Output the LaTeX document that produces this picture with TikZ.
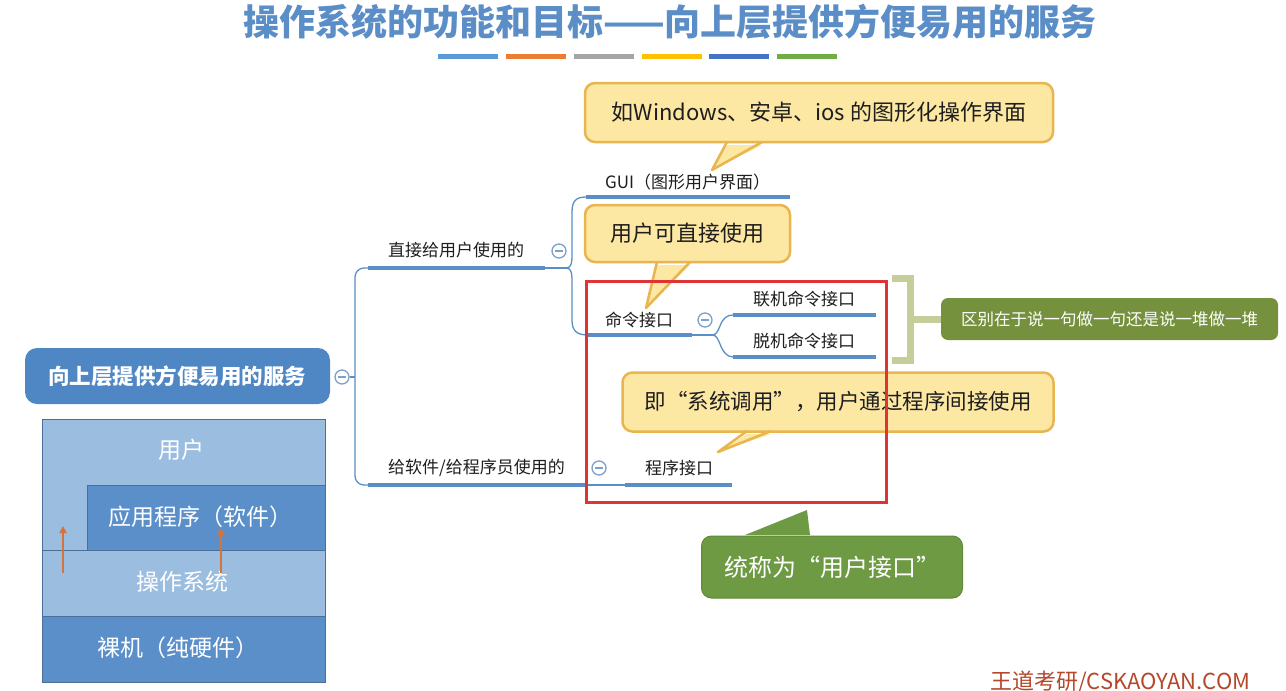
\documentclass[tikz,border=0pt]{standalone}
\usepackage{fontspec}
\setmainfont{Noto Sans CJK SC}
\usetikzlibrary{arrows.meta}
\definecolor{titleblue}{HTML}{5B8EC7}
\definecolor{treeblue}{HTML}{5B8EC7}
\definecolor{circblue}{HTML}{7EA1C9}
\definecolor{rootblue}{HTML}{4F86C4}
\definecolor{barA}{HTML}{5B9BD5}
\definecolor{barB}{HTML}{ED7D31}
\definecolor{barC}{HTML}{A5A5A5}
\definecolor{barD}{HTML}{FFC000}
\definecolor{barE}{HTML}{4472C4}
\definecolor{barF}{HTML}{70AD47}
\definecolor{yfill}{HTML}{FCE7A3}
\definecolor{yborder}{HTML}{E8B54E}
\definecolor{gcall}{HTML}{6E9A43}
\definecolor{gcallb}{HTML}{5F8A3A}
\definecolor{gbox}{HTML}{76913E}
\definecolor{bracketcol}{HTML}{C7CD98}
\definecolor{redline}{HTML}{E03434}
\definecolor{layerlight}{HTML}{9BBDE0}
\definecolor{layerdark}{HTML}{5A8FCA}
\definecolor{layerline}{HTML}{4C6F98}
\definecolor{arrowor}{HTML}{D4733A}
\definecolor{wmred}{HTML}{B5472B}
\definecolor{txt}{HTML}{1E1E1E}
\tikzset{
  conn/.style={draw=treeblue, line width=1.3pt},
  uline/.style={draw=treeblue, line width=4pt},
  lbl/.style={anchor=west, inner sep=0pt, text=txt, font=\fontsize{17}{19}\selectfont},
  collapse/.style={circle, draw=circblue, fill=white, line width=1.3pt, minimum size=14pt, inner sep=0pt,
    path picture={\draw[circblue, line width=1.3pt] ([xshift=-4pt]path picture bounding box.center) -- ([xshift=4pt]path picture bounding box.center);}},
  ycall/.style={rectangle, rounded corners=10pt, fill=yfill, draw=yborder, line width=2.5pt, text=txt, font=\fontsize{22}{24}\selectfont, inner sep=0pt},
  ytail/.style={fill=yfill},
  ytailb/.style={draw=yborder, line width=2.5pt, line join=round},
  layertxt/.style={text=white, font=\fontsize{23}{25}\selectfont, inner sep=0pt},
  oarrow/.style={draw=arrowor, line width=2.2pt, -{Triangle[length=7pt,width=7pt]}},
}
\begin{document}
\begin{tikzpicture}[x=1pt,y=-1pt]
\useasboundingbox[fill=white] (0,0) rectangle (1286,691);

% title
\node[text=titleblue, font=\bfseries\fontsize{36}{38}\selectfont, inner sep=0pt] (title) at (670,22) {操作系统的功能和目标——向上层提供方便易用的服务};
\fill[barA] (438,54) rectangle (498,59);
\fill[barB] (506,54) rectangle (566,59);
\fill[barC] (574,54) rectangle (634,59);
\fill[barD] (642,54) rectangle (702,59);
\fill[barE] (709,54) rectangle (769,59);
\fill[barF] (777,54) rectangle (837,59);

% root
\node[rectangle, rounded corners=12pt, fill=rootblue, minimum width=305pt, minimum height=56pt, text=white, font=\bfseries\fontsize{21.5}{23}\selectfont] (root) at (177.5,376) {向上层提供方便易用的服务};
\node[collapse] (c0) at (342,377) {};

% level 1 coordinates
\coordinate (j0) at (355,377);
\coordinate (b1l) at (368,268);
\coordinate (b1r) at (545,268);
\coordinate (b2l) at (368,485);
\coordinate (b2r) at (585,485);
\draw[conn] (c0.east) -- (j0);
\draw[conn, rounded corners=9pt] (j0) |- (b1l);
\draw[conn, rounded corners=9pt] (j0) |- (b2l);
\draw[uline] (b1l) -- (b1r);
\draw[uline] (b2l) -- (b2r);
\node[lbl] (b1) at (388,250) {直接给用户使用的};
\node[lbl] (b2) at (388,468) {给软件/给程序员使用的};
\node[collapse] (c1) at (559,251) {};
\node[collapse] (c2) at (599,468) {};

% level 2 under b1
\coordinate (f1) at (566,268);
\coordinate (guil) at (586,197);
\coordinate (guir) at (790,197);
\coordinate (cmdl) at (588,335);
\coordinate (cmdr) at (692,335);
\draw[conn] (b1r) -- (f1);
\draw[conn] (f1) .. controls (572,268) and (572,262) .. (572,252) -- (572,212) .. controls (572,201) and (576,197) .. (guil);
\draw[conn] (f1) .. controls (572,268) and (572,274) .. (572,284) -- (572,320) .. controls (572,331) and (577,335) .. (cmdl);
\draw[uline] (guil) -- (guir);
\draw[uline] (cmdl) -- (cmdr);
\node[lbl] (gui) at (605,182) {GUI（图形用户界面）};
\node[lbl] (cmd) at (605,320) {命令接口};
\node[collapse] (c3) at (705,320) {};

% level 3 under command
\coordinate (f2) at (712,335);
\coordinate (onl) at (733,315);
\coordinate (onr) at (876,315);
\coordinate (offl) at (733,357);
\coordinate (offr) at (876,357);
\draw[conn] (cmdr) -- (f2);
\draw[conn] (f2) .. controls (717,335) and (718,330) .. (720,326) .. controls (723,318) and (727,315) .. (onl);
\draw[conn] (f2) .. controls (717,335) and (718,340) .. (720,344) .. controls (723,352) and (727,357) .. (offl);
\draw[uline] (onl) -- (onr);
\draw[uline] (offl) -- (offr);
\node[lbl] (on) at (753,299) {联机命令接口};
\node[lbl] (off) at (753,341) {脱机命令接口};

% program interface
\coordinate (pl) at (625,485);
\coordinate (pr) at (732,485);
\draw[conn] (b2r) -- (pl);
\draw[uline] (pl) -- (pr);
\node[lbl] (prog) at (645,468) {程序接口};

% callout 1
\node[ycall, minimum width=468pt, minimum height=59pt] (k1) at (819,112.5) {如Windows、安卓、ios 的图形化操作界面};
\coordinate (k1a) at (727,142);
\coordinate (k1t) at (712,170);
\coordinate (k1b) at (762,142);
\fill[ytail] ([yshift=-3pt]k1a) -- (k1t) -- ([yshift=-3pt]k1b) -- cycle;
\draw[ytailb] (k1a) -- (k1t) -- (k1b);

% callout 2
\node[ycall, minimum width=205pt, minimum height=57pt] (k2) at (687.5,233.5) {用户可直接使用};
\coordinate (k2a) at (657,262);
\coordinate (k2t) at (646,308);
\coordinate (k2b) at (690,262);
\fill[ytail] ([yshift=-3pt]k2a) -- (k2t) -- ([yshift=-3pt]k2b) -- cycle;
\draw[ytailb] (k2a) -- (k2t) -- (k2b);

% callout 3
\node[ycall, minimum width=431pt, minimum height=59pt, font=\fontsize{21.5}{23}\selectfont] (k3) at (838,402) {即“系统调用”，用户通过程序间接使用};
\coordinate (k3a) at (747,431);
\coordinate (k3t) at (718,452);
\coordinate (k3b) at (771,431);
\fill[ytail] ([yshift=-3pt]k3a) -- (k3t) -- ([yshift=-3pt]k3b) -- cycle;
\draw[ytailb] (k3a) -- (k3t) -- (k3b);

% red box
\node[draw=redline, line width=3pt, minimum width=300pt, minimum height=221pt, inner sep=0pt] (redbox) at (736,391.5) {};

% bracket and green box
\coordinate (brt) at (892,278);
\coordinate (brb) at (892,360);
\coordinate (brm) at (910,319);
\draw[bracketcol, line width=7pt] (brt) -- (910,278) -- (910,360) -- (brb);
\node[rectangle, rounded corners=7pt, fill=gbox, minimum width=337pt, minimum height=42pt, text=white, font=\fontsize{16.5}{18}\selectfont] (diff) at (1109.5,319) {区别在于说一句做一句还是说一堆做一堆};
\draw[bracketcol, line width=7pt] (brm) -- (diff.west);

% green callout
\node[rectangle, rounded corners=10pt, fill=gcall, draw=gcallb, line width=1pt, minimum width=261pt, minimum height=62pt, text=white, font=\fontsize{24}{26}\selectfont] (gc) at (832,567) {统称为“用户接口”};
\coordinate (gca) at (745,537);
\coordinate (gct) at (807,510);
\coordinate (gcb) at (810,537);
\fill[gcall] ([yshift=2pt]gca) -- (gct) -- ([yshift=2pt]gcb) -- cycle;

% layered diagram
\fill[layerlight] (42,419) rectangle (325,485);
\fill[layerlight] (42,485) rectangle (87,550);
\fill[layerdark] (87,485) rectangle (325,550);
\fill[layerlight] (42,550) rectangle (325,616);
\fill[layerdark] (42,616) rectangle (325,682);
\draw[layerline, line width=0.9pt] (42,419) rectangle (325,682);
\draw[layerline, line width=0.9pt] (325,485) -- (87,485) -- (87,550);
\draw[layerline, line width=0.9pt] (42,550) -- (325,550);
\draw[layerline, line width=0.9pt] (42,616) -- (325,616);
\node[layertxt] (user) at (181,450) {用户};
\node[layertxt] (app) at (200,517) {应用程序（软件）};
\node[layertxt] (os) at (182,582) {操作系统};
\node[layertxt] (hw) at (178,648) {裸机（纯硬件）};
\coordinate (a1s) at (63,573);
\coordinate (a1e) at (63,526);
\coordinate (a2s) at (221,573);
\coordinate (a2e) at (221,528);
\draw[oarrow] (a1s) -- (a1e);
\draw[oarrow] (a2s) -- (a2e);

% watermark
\node[anchor=base west, inner sep=0pt, text=wmred, font=\fontsize{22}{24}\selectfont] (wm) at (990,689) {王道考研/CSKAOYAN.COM};
\end{tikzpicture}
\end{document}
